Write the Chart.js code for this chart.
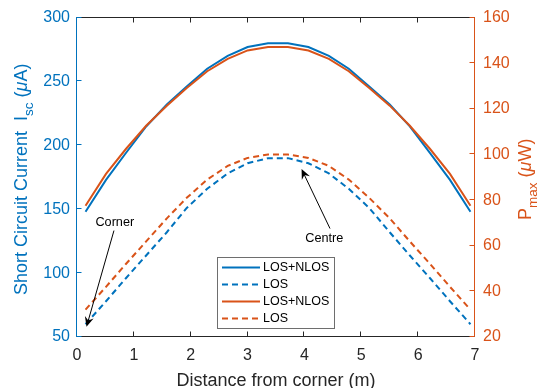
<!DOCTYPE html>
<html>
<head>
<meta charset="utf-8">
<script src="https://cdn.jsdelivr.net/npm/chart.js@4/dist/chart.umd.min.js"></script>
<style>
  html, body { margin: 0; padding: 0; background: #fff; }
  canvas { display: block; }
</style>
</head>
<body>
<canvas id="c" width="538" height="388"></canvas>
<script>
/* dados */
const distance  = [0.15, 0.51, 0.86, 1.22, 1.58, 1.93, 2.29, 2.65, 3.00, 3.36, 3.71, 4.07, 4.43, 4.78, 5.14, 5.50, 5.85, 6.21, 6.56, 6.92];
const iscTotal  = [148, 173, 194, 215, 232, 246, 260, 270, 277, 280, 280, 277, 270, 260, 246, 232, 215, 194, 173, 148];
const iscLos    = [60, 78, 96, 114, 132, 151, 166, 178, 186, 190, 190, 186, 178, 166, 151, 132, 114, 96, 78, 60];
const pmaxTotal = [77.5, 91.5, 102.4, 112.7, 121.4, 129.1, 136.5, 141.9, 145.6, 147.1, 147.1, 145.6, 141.9, 136.5, 129.1, 121.4, 112.7, 102.4, 91.5, 77.5];
const pmaxLos   = [32, 42, 52, 62, 72, 81, 89, 95, 98.5, 100, 100, 98.5, 95, 89, 81, 72, 62, 52, 42, 32];

const seriesLabels = ["LOS+NLOS", "LOS", "LOS+NLOS", "LOS"];
const xRange = [0, 7];
const iscRange = [50, 300];
const pmaxRange = [20, 160];

/* anotações: texto, posição do texto, cauda e ponta da seta (eixo x / eixo Isc) */
const noteText = ["Corner", "Centre"];
const noteAt   = [[0.665, 139.6], [4.35, 127]];
const noteTail = [[0.65, 133.3], [4.45, 134.9]];
const noteTip  = [[0.167, 58.0], [3.95, 181.4]];

/* estilos */
const BLUE = "#0072BD", ORANGE = "#D95319", DARK = "#262626";
const FONT = '"Liberation Sans", Arial, Helvetica, sans-serif';
const pts = ys => distance.map((x, i) => ({ x, y: ys[i] }));

// texto com subscrito / itálico, centrado em (x,y), baseline em y
function richText(ctx, parts, x, y, rot, size, color){
  ctx.save();
  ctx.translate(x, y);
  ctx.rotate(rot);
  ctx.fillStyle = color;
  ctx.textBaseline = "alphabetic";
  ctx.textAlign = "left";
  const f = k => (k === "it" ? "italic " : "") + (k === "sub" ? size * 0.75 : size) + "px " + FONT;
  let w = 0;
  parts.forEach(([t, k]) => { ctx.font = f(k); w += ctx.measureText(t).width; });
  let cx = -w / 2;
  parts.forEach(([t, k]) => {
    ctx.font = f(k);
    ctx.fillText(t, cx, k === "sub" ? size * 0.32 : 0);
    cx += ctx.measureText(t).width;
  });
  ctx.restore();
}

/* eixos estilo MATLAB: linhas, ticks para dentro, títulos */
const matlabAxes = {
  id: "matlabAxes",
  afterDraw(chart){
    const { ctx, chartArea: a, scales } = chart;
    const L = Math.round(a.left) - 0.5, R = Math.round(a.right) - 0.5;
    const T = Math.round(a.top) - 0.5, B = Math.round(a.bottom) - 0.5;
    const tl = 5;
    ctx.save();
    ctx.lineWidth = 1;
    // top / bottom
    ctx.strokeStyle = DARK;
    ctx.beginPath();
    ctx.moveTo(L, T); ctx.lineTo(R, T);
    ctx.moveTo(L, B); ctx.lineTo(R, B);
    scales.x.ticks.forEach(t => {
      const px = Math.round(scales.x.getPixelForValue(t.value)) - 0.5;
      ctx.moveTo(px, B); ctx.lineTo(px, B - tl);
      ctx.moveTo(px, T); ctx.lineTo(px, T + tl);
    });
    ctx.stroke();
    // left
    ctx.strokeStyle = BLUE;
    ctx.beginPath();
    ctx.moveTo(L, T); ctx.lineTo(L, B);
    scales.y.ticks.forEach(t => {
      const py = Math.round(scales.y.getPixelForValue(t.value)) - 0.5;
      ctx.moveTo(L, py); ctx.lineTo(L + tl, py);
    });
    ctx.stroke();
    // right
    ctx.strokeStyle = ORANGE;
    ctx.beginPath();
    ctx.moveTo(R, T); ctx.lineTo(R, B);
    scales.y2.ticks.forEach(t => {
      const py = Math.round(scales.y2.getPixelForValue(t.value)) - 0.5;
      ctx.moveTo(R, py); ctx.lineTo(R - tl, py);
    });
    ctx.stroke();
    ctx.restore();

    const midY = (a.top + a.bottom) / 2;
    richText(ctx, [["Short Circuit Current  I", ""], ["sc", "sub"], [" (", ""], ["\u03bc", "it"], ["A)", ""]],
      27, midY + 2, -Math.PI / 2, 18, BLUE);
    richText(ctx, [["P", ""], ["max", "sub"], [" (", ""], ["\u03bc", "it"], ["W)", ""]],
      531, midY + 2, -Math.PI / 2, 18, ORANGE);
    richText(ctx, [["Distance from corner (m)", ""]], (a.left + a.right) / 2, 386, 0, 18, DARK);
  }
};

/* legenda dentro do gráfico + setas */
const insideLegend = {
  id: "insideLegend",
  afterDraw(chart){
    const { ctx, scales } = chart;
    const x = scales.x, y = scales.y;

    // setas
    ctx.save();
    ctx.strokeStyle = "#000"; ctx.fillStyle = "#000"; ctx.lineWidth = 1;
    noteText.forEach((txt, i) => {
      const tx = x.getPixelForValue(noteTail[i][0]), ty = y.getPixelForValue(noteTail[i][1]);
      const hx = x.getPixelForValue(noteTip[i][0]),  hy = y.getPixelForValue(noteTip[i][1]);
      const len = Math.hypot(hx - tx, hy - ty), ux = (hx - tx) / len, uy = (hy - ty) / len;
      const nx = -uy, ny = ux, hl = 10, hw = 4.5;
      ctx.beginPath(); ctx.moveTo(tx, ty); ctx.lineTo(hx - ux * 6, hy - uy * 6); ctx.stroke();
      ctx.beginPath();
      ctx.moveTo(hx, hy);
      ctx.lineTo(hx - ux * hl + nx * hw, hy - uy * hl + ny * hw);
      ctx.lineTo(hx - ux * hl * 0.65, hy - uy * hl * 0.65);
      ctx.lineTo(hx - ux * hl - nx * hw, hy - uy * hl - ny * hw);
      ctx.closePath(); ctx.fill();
      ctx.font = "12.7px " + FONT;
      ctx.textAlign = "center"; ctx.textBaseline = "middle";
      ctx.fillText(txt, x.getPixelForValue(noteAt[i][0]), y.getPixelForValue(noteAt[i][1]));
    });
    ctx.restore();

    // legenda
    const bx = 217.5, by = 257.5, bw = 117, bh = 71, rows = [267.5, 284.5, 301.5, 318.5];
    ctx.save();
    ctx.fillStyle = "#fff";
    ctx.fillRect(bx, by, bw, bh);
    ctx.strokeStyle = "#6e6e6e"; ctx.lineWidth = 1;
    ctx.strokeRect(bx, by, bw, bh);
    chart.data.datasets.forEach((ds, i) => {
      ctx.strokeStyle = ds.borderColor; ctx.lineWidth = 2;
      ctx.setLineDash(ds.borderDash || []);
      ctx.beginPath(); ctx.moveTo(222, rows[i]); ctx.lineTo(260, rows[i]); ctx.stroke();
      ctx.setLineDash([]);
      ctx.fillStyle = "#000";
      ctx.font = "12.5px " + FONT;
      ctx.textAlign = "left"; ctx.textBaseline = "middle";
      ctx.fillText(ds.label, 263, rows[i] + 0.5);
    });
    ctx.restore();
  }
};

const line = (label, data, color, axis, dash, order) => ({
  label, data, yAxisID: axis,
  borderColor: color, backgroundColor: color,
  borderWidth: 2, borderDash: dash, pointRadius: 0,
  tension: 0, order
});

new Chart(document.getElementById("c"), {
  type: "line",
  data: {
    datasets: [
      line(seriesLabels[0], pts(iscTotal),  BLUE,   "y",  [], 1),
      line(seriesLabels[1], pts(iscLos),    BLUE,   "y",  [6, 4], 1),
      line(seriesLabels[2], pts(pmaxTotal), ORANGE, "y2", [], 0),
      line(seriesLabels[3], pts(pmaxLos),   ORANGE, "y2", [6, 4], 0)
    ]
  },
  options: {
    responsive: false,
    devicePixelRatio: 1,
    animation: false,
    layout: { padding: { top: 16, left: 0, right: 0, bottom: 0 } },
    plugins: { legend: { display: false }, tooltip: { enabled: false } },
    scales: {
      x: {
        type: "linear", min: xRange[0], max: xRange[1],
        grid: { display: false, drawTicks: false }, border: { display: false },
        ticks: { stepSize: 1, color: DARK, padding: 9, font: { family: FONT, size: 16 } },
        afterFit: s => { s.height = 51; }
      },
      y: {
        position: "left", min: iscRange[0], max: iscRange[1],
        grid: { display: false, drawTicks: false }, border: { display: false },
        ticks: { stepSize: 50, color: BLUE, padding: 7, font: { family: FONT, size: 16 } },
        afterFit: s => { s.width = 77; }
      },
      y2: {
        position: "right", min: pmaxRange[0], max: pmaxRange[1],
        grid: { display: false, drawTicks: false }, border: { display: false },
        ticks: { stepSize: 20, color: ORANGE, padding: 8, font: { family: FONT, size: 16 } },
        afterFit: s => { s.width = 63; }
      }
    }
  },
  plugins: [matlabAxes, insideLegend]
});
</script>
</body>
</html>
